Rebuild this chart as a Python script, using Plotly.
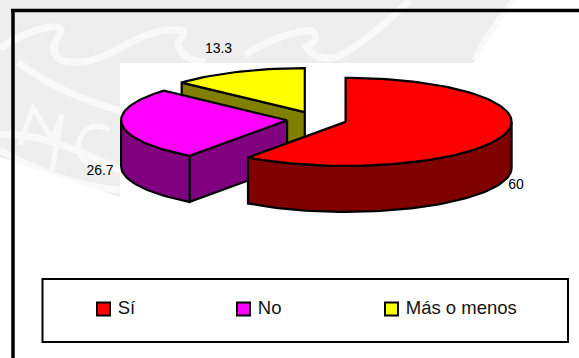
import math
import plotly.graph_objects as go

# Data
categories = ["Sí", "No", "Más o menos"]
values = [60, 26.7, 13.3]
value_labels = ["60", "26.7", "13.3"]
top_colors = ["#ff0000", "#ff00ff", "#ffff00"]
wall_colors = ["#800000", "#800080", "#808000"]

# Pie projection parameters (pixel space of the 579x358 picture)
CX, CY = 317.0, 119.4
RX, RY = 166.0, 44.0
DEPTH = 46.0
EXPLODE = 0.181
W, H = 579, 358
legend_xs = [103.5, 243.5, 391.5]
legend_y = 309
label_xy = [(516, 185), (100, 171), (218.5, 49)]


def pt(cx, cy, deg, dy=0.0):
    a = math.radians(deg)
    return cx + RX * math.sin(a), cy - RY * math.cos(a) + dy


def arc(cx, cy, a0, a1, dy=0.0):
    n = max(2, int(abs(a1 - a0) / 2) + 1)
    return [pt(cx, cy, a0 + (a1 - a0) * i / (n - 1), dy) for i in range(n)]


fig = go.Figure()


def poly(points, fill):
    fig.add_trace(go.Scatter(
        x=[p[0] for p in points] + [points[0][0]],
        y=[p[1] for p in points] + [points[0][1]],
        mode="lines", fill="toself", fillcolor=fill,
        line=dict(color="black", width=2.2), hoverinfo="skip", showlegend=False))


# Slice angles, clockwise from 12 o'clock
total = sum(values)
spans, start = [], 0.0
for v in values:
    spans.append((start, start + v / total * 360))
    start += v / total * 360

# Painter's order: back slice first
for i in (2, 1, 0):
    a0, a1 = spans[i]
    mid = math.radians((a0 + a1) / 2)
    cx = CX + EXPLODE * RX * math.sin(mid)
    cy = CY - EXPLODE * RY * math.cos(mid)
    # radial wall on the slice's starting edge (faces the viewer for the left slices)
    if 180 < a0 < 360 or i == 2:
        s = pt(cx, cy, a0)
        poly([(cx, cy), s, (s[0], s[1] + DEPTH), (cx, cy + DEPTH)], wall_colors[i])
    # outer rim, front half only
    r0, r1 = max(a0, 90), min(a1, 270)
    if r1 > r0:
        poly(arc(cx, cy, r0, r1) + arc(cx, cy, r1, r0, DEPTH), wall_colors[i])
    # top face
    poly([(cx, cy)] + arc(cx, cy, a0, a1), top_colors[i])

# Value labels
fig.add_trace(go.Scatter(
    x=[p[0] for p in label_xy], y=[p[1] for p in label_xy], mode="text",
    text=value_labels, textposition="middle center",
    textfont=dict(family="Liberation Sans", size=14, color="black"),
    hoverinfo="skip", showlegend=False))

# Legend entries
fig.add_trace(go.Scatter(
    x=legend_xs, y=[legend_y] * 3, mode="markers+text",
    marker=dict(symbol="square", size=13, color=top_colors, line=dict(color="black", width=2)),
    text=["\u00a0" + c for c in categories], textposition="middle right",
    textfont=dict(family="Liberation Sans", size=18.5, color="#111111"),
    hoverinfo="skip", showlegend=False))

GREY = "#eeeeee"
WM = "#f9f9f9"


def wm(path, width=7):
    return dict(type="path", path=path, layer="below", fillcolor="rgba(0,0,0,0)",
                line=dict(color=WM, width=width))


def fill(path, color):
    return dict(type="path", path=path, layer="below", fillcolor=color, line=dict(width=0))


shapes = [
    fill("M0,0 L579,0 L579,358 L0,358 Z", GREY),
    # watermark strokes
    wm("M0,48 Q25,32 45,28 T60,34 Q48,50 60,60 Q85,68 120,48 T178,30 Q190,30 178,42 Q180,60 205,62"),
    wm("M18,62 Q60,95 125,112 T200,118"),
    wm("M245,55 Q285,30 312,31 Q322,38 306,47 Q322,68 350,50 Q380,30 410,0"),
    wm("M475,60 Q490,30 515,0"),
    wm("M0,135 Q40,130 120,170"),
    wm("M20,145 L33,108 L52,138 L62,115 L52,170", 5),
    wm("M110,130 Q85,118 78,145 Q80,170 112,170", 5),
    wm("M0,150 Q60,185 120,190"),
    # white cut-outs
    fill("M120,63 L579,63 L579,358 L120,358 Z", "white"),
    fill("M0,157 L120,197 L120,358 L0,358 Z", "white"),
    fill("M515,0 L579,0 L579,63 L473,63 Z", "white"),
    # frame
    dict(type="line", x0=11.2, x1=579, y0=10.5, y1=10.5, layer="below", line=dict(color="black", width=3.5)),
    dict(type="line", x0=13, x1=13, y0=9, y1=358, layer="below", line=dict(color="black", width=3.5)),
    # legend box
    dict(type="rect", x0=42.5, x1=568, y0=279, y1=342, layer="below", fillcolor="white",
         line=dict(color="black", width=2)),
]

fig.update_layout(
    width=W, height=H, margin=dict(l=0, r=0, t=0, b=0), autosize=False,
    paper_bgcolor="white", plot_bgcolor="white", showlegend=False, shapes=shapes,
    xaxis=dict(range=[0, W], visible=False, fixedrange=True),
    yaxis=dict(range=[H, 0], visible=False, fixedrange=True),
)
fig.write_html("out.html", config={"displayModeBar": False},
               post_script="document.body.style.margin='0';document.documentElement.style.overflow='hidden';")
